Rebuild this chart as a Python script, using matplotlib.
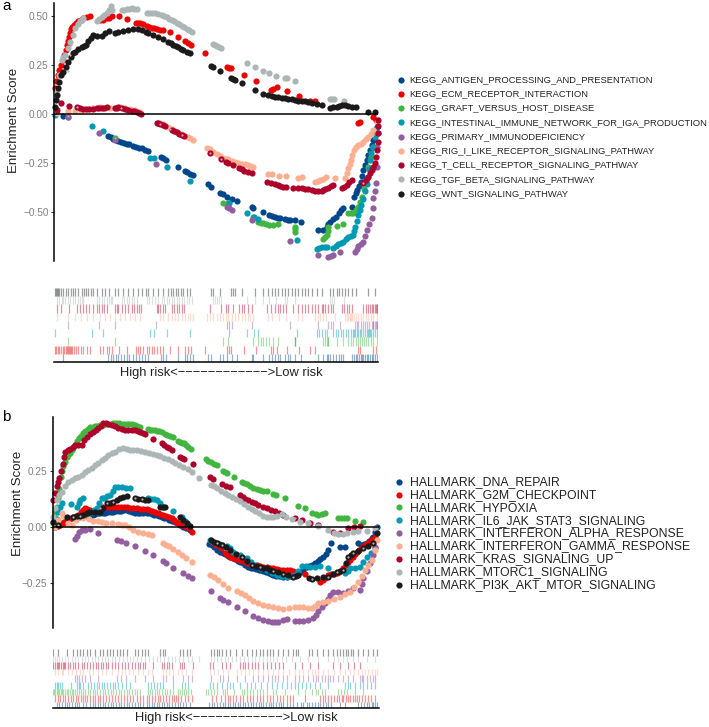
import numpy as np
import matplotlib
matplotlib.use('Agg')
import matplotlib.pyplot as plt

plt.rcParams['font.family'] = ['Liberation Sans', 'DejaVu Sans']

W, H = 709, 727

# lancet palette, same order in both panels
colors = ['#00468B', '#ED0000', '#42B540', '#0099B4', '#925E9F',
          '#FDAF91', '#AD002A', '#ADB6B6', '#1B1919']

names_a = ['KEGG_ANTIGEN_PROCESSING_AND_PRESENTATION', 'KEGG_ECM_RECEPTOR_INTERACTION',
           'KEGG_GRAFT_VERSUS_HOST_DISEASE', 'KEGG_INTESTINAL_IMMUNE_NETWORK_FOR_IGA_PRODUCTION',
           'KEGG_PRIMARY_IMMUNODEFICIENCY', 'KEGG_RIG_I_LIKE_RECEPTOR_SIGNALING_PATHWAY',
           'KEGG_T_CELL_RECEPTOR_SIGNALING_PATHWAY', 'KEGG_TGF_BETA_SIGNALING_PATHWAY',
           'KEGG_WNT_SIGNALING_PATHWAY']
names_b = ['HALLMARK_DNA_REPAIR', 'HALLMARK_G2M_CHECKPOINT', 'HALLMARK_HYPOXIA',
           'HALLMARK_IL6_JAK_STAT3_SIGNALING', 'HALLMARK_INTERFERON_ALPHA_RESPONSE',
           'HALLMARK_INTERFERON_GAMMA_RESPONSE', 'HALLMARK_KRAS_SIGNALING_UP',
           'HALLMARK_MTORC1_SIGNALING', 'HALLMARK_PI3K_AKT_MTOR_SIGNALING']

# (rank, running enrichment score)
a_antigen = [(27,-.010),(162,-.114),(170,-.119),(177,-.127),(185,-.131),(192,-.137),(200,-.142),(209,-.149),(217,-.151),(225,-.154),(235,-.161),(244,-.166),(254,-.173),
             (262,-.175),(272,-.183),(282,-.186),(319,-.217),(327,-.222),(334,-.234),(372,-.268),(392,-.290),(399,-.297),(408,-.303),(417,-.310),
             (462,-.358),(470,-.369),(497,-.400),(507,-.408),(517,-.420),(532,-.432),(549,-.444),(592,-.471),(597,-.478),
             (625,-.497),(645,-.514),(654,-.518),(662,-.522),(670,-.527),(677,-.531),(692,-.534),(700,-.539),(707,-.541),(722,-.541),(740,-.547),
             (792,-.590),(807,-.590),(817,-.575),(822,-.56),(827,-.547),(835,-.535),(845,-.522),(855,-.505),(860,-.49),(865,-.478),
             (892,-.471),(899,-.420),(905,-.40),(909,-.386),(914,-.365),(919,-.344),(923,-.315),(927,-.285),(932,-.26),(937,-.234),(942,-.21),(947,-.183),(952,-.16),(957,-.132),(962,-.10),(967,-.064)]
a_ecm = [(2,.13),(5,.17),(10,.20),(15,.225),(20,.25),(25,.275),(30,.30),(34,.325),(38,.35),(41,.37),(44,.39),(47,.41),(50,.43),(54,.44),(59,.45),(65,.46),(72,.475),(80,.48),(87,.487),(97,.495),(107,.50),
         (137,.477),(147,.48),(157,.487),(165,.49),(172,.50),(195,.499),(217,.483),(245,.464),(251,.462),(257,.461),(267,.455),(277,.447),(285,.443),(292,.439),(300,.435),(307,.431),(317,.428),
         (327,.425),(347,.418),(370,.392),(392,.369),(400,.36),(409,.352),(452,.308),(517,.241),(523,.236),(530,.232),(570,.196),(604,.169),
         (650,.12),(657,.127),(669,.139),(699,.117),(734,.092),(767,.066),(782,.066),(912,-.047),(917,-.039),(957,-.014),(965,-.03)]
a_graft = [(42,-.014),(182,-.124),(507,-.454),(522,-.454),(597,-.525),(612,-.547),(620,-.552),(627,-.555),(636,-.561),(645,-.565),(657,-.565),
           (672,-.560),(722,-.573),(722,-.585),(722,-.598),(805,-.637),(812,-.625),(817,-.615),(820,-.595),(822,-.573),(847,-.570),(865,-.561),(882,-.505),
           (890,-.505),(897,-.505),(905,-.488),(912,-.471),(917,-.445),(922,-.420),(928,-.38),(935,-.335),(942,-.268),(949,-.217),(957,-.166),(967,-.098)]
a_il = [(2,-.005),(114,-.061),(147,-.085),(287,-.225),(299,-.225),(337,-.268),(407,-.339),(525,-.454),(577,-.505),(599,-.522),
        (612,-.535),(727,-.641),(787,-.688),(795,-.683),(802,-.678),(811,-.677),(819,-.675),(837,-.680),(845,-.672),(852,-.663),(860,-.656),(867,-.649),(875,-.637),(882,-.624),(890,-.62),
        (897,-.615),(900,-.595),(902,-.573),(907,-.545),(912,-.515),(917,-.488),(921,-.46),(925,-.434),(932,-.390),(937,-.355),(942,-.320),(945,-.28),(947,-.234),(951,-.20),(955,-.166),(962,-.115),(969,-.064)]
a_primary = [(42,-.017),(134,-.098),(182,-.132),(304,-.256),(519,-.475),(525,-.48),(532,-.486),(592,-.540),(707,-.644),
             (790,-.717),(822,-.725),(829,-.72),(835,-.717),(857,-.700),(902,-.700),(907,-.685),(912,-.671),(920,-.66),(927,-.649),(932,-.62),(937,-.590),
             (945,-.56),(952,-.531),(955,-.480),(957,-.429),(962,-.390),(965,-.350),(967,-.268),(969,-.166),(971,-.098)]
a_rig = [(7,.003),(42,.017),(62,.017),(80,.02),(97,.024),(117,.03),(137,.037),(152,.032),(167,.029),(182,.03),(197,.034),(212,.028),(227,.024),(242,.018),(257,.012),
         (317,-.044),(327,-.051),(342,-.068),(352,-.075),(362,-.085),(372,-.095),(382,-.103),(392,-.110),(400,-.116),(407,-.122),(417,-.132),
         (457,-.171),(467,-.178),(477,-.195),(487,-.205),(497,-.212),(507,-.222),(515,-.227),(522,-.231),(532,-.237),(542,-.243),(552,-.249),(562,-.252),(572,-.254),(580,-.26),(587,-.266),(597,-.271),
         (642,-.305),(652,-.305),(675,-.314),(695,-.317),(732,-.325),(742,-.320),(782,-.344),(790,-.34),(797,-.336),(806,-.328),(815,-.319),
         (842,-.327),(872,-.327),(877,-.30),(882,-.276),(886,-.255),(889,-.234),(894,-.21),(899,-.183),(905,-.17),(912,-.158),(920,-.15),(927,-.141),(935,-.128),(942,-.115),(950,-.10),(957,-.081),(967,-.039)]
a_tcell = [(7,.020),(19,.054),(44,.042),(67,.034),(77,.028),(87,.025),(96,.025),(105,.025),(116,.027),(127,.029),(134,.029),(142,.029),(150,.032),(159,.034),(182,.029),(187,.032),(192,.034),(202,.03),
           (212,.024),(222,.02),(232,.017),(240,.013),(247,.010),(254,.005),(259,.000),
           (307,-.044),(312,-.047),(317,-.051),(325,-.055),(332,-.059),(352,-.081),(360,-.087),(367,-.093),(375,-.10),(382,-.107),(390,-.112),
           (467,-.197),(500,-.231),(515,-.245),(522,-.251),(535,-.260),(555,-.276),(563,-.282),(570,-.288),(580,-.295),(592,-.302),
           (639,-.344),(650,-.35),(662,-.358),(670,-.362),(677,-.368),(687,-.371),(695,-.373),(717,-.376),(730,-.377),(742,-.378),(752,-.38),(762,-.383),(772,-.386),(782,-.390),(792,-.39),(802,-.393),(807,-.388),(812,-.383),
           (822,-.375),(830,-.368),(837,-.361),(862,-.378),(870,-.37),(877,-.361),(885,-.348),(892,-.336),(927,-.349),(935,-.335),(942,-.320),(947,-.30),(952,-.286),(957,-.27),(962,-.251),(965,-.22),(969,-.183),(970,-.14),(971,-.098),(972,-.06),(972,-.031)]
a_tgf = [(7,.12),(14,.20),(22,.275),(27,.29),(32,.30),(40,.335),(47,.368),(55,.40),(62,.436),(70,.455),(77,.475),(82,.48),(87,.488),(127,.475),(135,.485),(142,.495),(150,.505),(157,.512),(165,.53),(170,.549),(172,.529),
         (202,.529),(210,.53),(217,.532),(225,.535),(232,.537),(240,.535),(247,.532),(277,.515),(285,.515),(292,.515),(302,.515),(312,.509),(322,.503),(330,.498),(337,.492),(345,.485),(352,.478),(360,.471),(367,.464),(375,.455),(382,.447),(390,.44),(397,.431),(405,.425),(412,.419),
         (475,.356),(481,.351),(487,.346),(493,.34),(499,.334),(577,.258),(602,.237),(625,.220),(645,.207),(665,.195),(692,.181),(699,.183),(722,.168),
         (827,.078),(834,.078),(840,.078),(869,.066)]
a_wnt = [(2,.037),(4,.071),(7,.097),(11,.131),(15,.164),(20,.198),(27,.215),(34,.241),(42,.266),(49,.292),(55,.308),(62,.317),
         (72,.329),(82,.342),(88,.347),(95,.351),(102,.373),(109,.388),(117,.402),(129,.398),(142,.398),(152,.414),(164,.424),(182,.414),
         (192,.419),(207,.424),(222,.427),(237,.431),(250,.43),(262,.427),(275,.415),(282,.410),(297,.402),(312,.390),(327,.380),(342,.368),(350,.36),(357,.351),
         (365,.345),(372,.339),(380,.332),(387,.325),(397,.316),(407,.308),(469,.246),(477,.241),(497,.219),(529,.185),(535,.18),(542,.173),(562,.156),(602,.122),(627,.102),(640,.097),
         (652,.092),(662,.088),(672,.085),(682,.083),(692,.080),(702,.078),(712,.076),(722,.07),(732,.066),(742,.067),(752,.068),(762,.063),(772,.058),(787,.052),(802,.044),(827,.032),(835,.033),(847,.037),(855,.042),(862,.047),(872,.044),
         (882,.041),(892,.038),(905,.034),(942,.008),(962,.008)]

b_dna = [(12,.004),(20,.01),(28,.018),(36,.026),(42,.031),(50,.036),(58,.04),(66,.044),(72,.046),(80,.046),(90,.047),(100,.048),(112,.049),(120,.052),(128,.056),(136,.06),(142,.061),
         (150,.062),(158,.064),(166,.066),(174,.067),(182,.068),(190,.07),(198,.072),(206,.073),(214,.074),(222,.075),(230,.07),(238,.066),(247,.064),(255,.064),(263,.063),(272,.062),(282,.061),
         (290,.06),(298,.056),(305,.054),(312,.053),(320,.049),(328,.045),(335,.041),(342,.038),(350,.033),(358,.028),(367,.024),(375,.016),(383,.008),(392,.001),(400,-.005),(412,-.013),
         (470,-.075),(477,-.08),(484,-.09),(492,-.1),(502,-.109),(510,-.115),(518,-.122),(525,-.128),(532,-.132),(540,-.138),(548,-.144),(555,-.15),(562,-.154),(570,-.162),(578,-.17),(586,-.176),
         (594,-.181),(602,-.184),(610,-.187),(618,-.19),(625,-.192),(632,-.194),(640,-.2),(648,-.206),(655,-.21),(662,-.213),(670,-.216),(678,-.218),(685,-.219),(692,-.22),(702,-.22),(712,-.218),
         (722,-.215),(732,-.213),(745,-.2),(752,-.19),(762,-.176),(770,-.172),(778,-.167),(787,-.161),(795,-.152),(803,-.142),(812,-.132),(820,-.118),(827,-.102),(834,-.073),(862,-.09),(877,-.087),
         (917,-.072),(925,-.078),(933,-.075),(942,-.072),(950,-.06),(958,-.048),(962,-.043),(968,-.02),(972,-.001)]
b_g2m = [(7,.001),(15,.005),(22,.009),(30,.016),(38,.024),(47,.031),(55,.038),(62,.044),(70,.05),(77,.053),(84,.066),(90,.077),(97,.083),(104,.08),(112,.074),(120,.07),(127,.068),(135,.075),
         (143,.084),(152,.09),(160,.088),(170,.087),(178,.087),(187,.087),(195,.087),(205,.087),(214,.087),(222,.087),(232,.086),(242,.085),(252,.083),(262,.082),(272,.08),(282,.078),(290,.075),
         (298,.071),(307,.068),(315,.063),(323,.058),(332,.053),(340,.049),(348,.043),(357,.038),(364,.031),(370,.024),(377,.016),(385,.011),(397,.004),(405,-.005),(417,-.021),
         (477,-.065),(490,-.078),(505,-.095),(518,-.115),(525,-.125),(532,-.132),(540,-.136),(550,-.141),(562,-.146),(572,-.152),(582,-.158),(592,-.164),(602,-.167),(612,-.17),(622,-.173),(632,-.176),
         (642,-.178),(652,-.18),(662,-.183),(672,-.187),(682,-.191),(692,-.192),(702,-.193),(712,-.193),(722,-.194),(757,-.209),(802,-.243),(810,-.236),(818,-.225),(827,-.213),(835,-.21),(843,-.208),
         (852,-.206),(860,-.198),(867,-.19),(872,-.183),(880,-.168),(887,-.155),(892,-.146),(900,-.132),(907,-.118),(912,-.109),(920,-.1),(928,-.09),(937,-.08),(945,-.07),(955,-.058),(967,-.043)]
b_hypoxia = [(0,.02),(4,.05),(8,.07),(12,.09),(16,.13),(20,.17),(24,.22),(27,.25),(32,.27),(37,.29),(42,.31),(47,.32),(52,.33),(57,.34),(62,.35),(68,.365),(74,.38),(80,.395),(86,.405),(92,.416),
             (98,.425),(105,.435),(112,.442),(120,.445),(127,.448),(134,.448),(142,.452),(150,.455),(158,.457),(166,.456),(174,.457),(182,.46),(190,.463),(198,.46),(206,.458),(214,.457),(222,.459),
             (230,.459),(238,.456),(246,.453),(254,.449),(262,.445),(285,.434),(292,.432),(299,.431),(306,.43),(313,.427),(320,.424),(328,.42),(336,.415),(344,.41),(352,.405),(360,.4),(375,.384),
             (382,.379),(388,.375),(394,.371),(400,.365),(407,.356),(414,.348),(460,.300),(467,.293),(474,.287),(483,.281),(492,.275),(512,.249),(518,.245),(524,.241),(544,.220),(567,.201),(575,.196),
             (582,.191),(592,.183),(602,.175),(612,.169),(622,.164),(632,.162),(642,.160),(662,.147),(670,.142),(697,.127),(737,.095),(757,.083),(777,.064),(790,.057),(797,.053),(807,.056),(817,.061),
             (857,.041),(865,.04),(875,.039),(882,.038),(907,.028),(930,.021)]
b_il6 = [(7,.001),(12,.035),(17,.068),(22,.09),(27,.105),(54,.101),(74,.090),(78,.105),(82,.120),(90,.127),(107,.061),(115,.066),(125,.075),(132,.083),(140,.105),(147,.127),(155,.13),(164,.137),(172,.142),
         (180,.16),(187,.179),(197,.177),(207,.176),(220,.174),(232,.172),(287,.127),(295,.125),(303,.123),(312,.120),(322,.105),(332,.090),(362,.071),(387,.046),(397,.025),(407,.009),
         (472,-.058),(482,-.065),(492,-.073),(507,-.079),(522,-.084),(532,-.095),(542,-.109),(562,-.125),(582,-.139),(595,-.155),(607,-.169),(625,-.18),(642,-.192),(657,-.203),(672,-.213),(687,-.217),(702,-.220),(715,-.216),(727,-.213),(737,-.195),(747,-.172),
         (760,-.175),(772,-.176),(787,-.176),(802,-.173),(827,-.183),(877,-.206),(885,-.195),(892,-.184),(907,-.18),(922,-.176),(932,-.155),(942,-.132),(955,-.115),(967,-.095)]
b_alpha = [(67,-.055),(72,-.04),(79,-.021),(88,-.015),(97,-.013),(112,-.010),(137,-.025),(192,-.058),(205,-.064),(220,-.069),(247,-.083),(277,-.105),(302,-.124),
           (332,-.151),(340,-.159),(362,-.184),(392,-.206),(405,-.217),(417,-.228),(474,-.284),(502,-.314),(510,-.322),(527,-.334),(554,-.356),(577,-.375),(602,-.394),
           (615,-.403),(632,-.411),(645,-.417),(657,-.422),(667,-.423),(677,-.423),(690,-.415),(702,-.408),(727,-.419),(740,-.418),(752,-.416),(765,-.412),(782,-.405),(790,-.39),(797,-.371),(807,-.355),(817,-.339),(825,-.32),(832,-.302),
           (842,-.287),(857,-.29),(872,-.294),(887,-.283),(902,-.271),(922,-.278),(927,-.255),(932,-.228),(942,-.195),(952,-.161),(960,-.125),(967,-.087)]
b_gamma = [(7,.001),(17,.03),(27,.061),(32,.05),(45,.02),(57,.009),(70,.03),(82,.046),(92,.04),(108,.034),(122,.028),(135,.026),(147,.024),(160,.02),(177,.016),(195,.012),(207,.01),(217,.009),(230,-.002),(242,-.013),(257,-.02),(272,-.025),(285,-.03),(297,-.036),
           (332,-.072),(340,-.078),(350,-.086),(362,-.098),(375,-.111),(387,-.124),(400,-.138),(417,-.154),(472,-.213),(485,-.224),(497,-.235),(512,-.254),(527,-.272),(552,-.282),(565,-.292),(577,-.302),(590,-.316),(602,-.328),
           (617,-.337),(632,-.346),(647,-.351),(662,-.356),(677,-.36),(692,-.365),(710,-.36),(727,-.356),(740,-.356),(752,-.356),(765,-.358),(777,-.361),(787,-.35),(797,-.339),(812,-.334),(827,-.328),(845,-.318),(862,-.309),(877,-.298),(892,-.287),
           (905,-.265),(917,-.243),(927,-.218),(937,-.192),(947,-.17),(957,-.148),(966,-.10),(974,-.058)]
b_kras = [(2,.12),(7,.15),(12,.18),(16,.20),(20,.216),(26,.25),(32,.281),(35,.31),(37,.333),(45,.34),(52,.345),(60,.355),(67,.364),(77,.364),(87,.364),(95,.385),(102,.401),(112,.412),(122,.423),(130,.43),(137,.438),(145,.45),(152,.463),
          (160,.46),(167,.457),(177,.452),(187,.448),(197,.44),(207,.433),(217,.431),(227,.430),(237,.43),(247,.430),(255,.426),(262,.422),(270,.416),(277,.411),(300,.391),(327,.371),(335,.364),(342,.356),(350,.349),(357,.342),
          (382,.312),(388,.307),(394,.302),(420,.278),(472,.223),(482,.213),(507,.191),(520,.184),(532,.179),(562,.142),(570,.133),(577,.124),(587,.118),(597,.112),(607,.105),(617,.098),(630,.09),
          (642,.083),(655,.077),(667,.071),(680,.062),(692,.053),(727,.038),(747,.031),(772,.019),(797,.009),(840,-.021),(862,-.028),(887,-.006),(905,0),(922,.004)]
b_mtorc = [(2,.046),(7,.085),(12,.120),(20,.14),(27,.157),(37,.18),(47,.201),(57,.21),(67,.216),(77,.224),(87,.231),(97,.242),(107,.253),(117,.264),(127,.275),(137,.286),(147,.297),(157,.308),(167,.320),(177,.327),(187,.334),(200,.345),(212,.352),
           (222,.347),(232,.342),(242,.342),(252,.342),(265,.338),(277,.334),(290,.329),(302,.324),(312,.32),(322,.315),(335,.308),(347,.300),(357,.292),(367,.283),(380,.276),(392,.268),(405,.256),(417,.244),(440,.219),(474,.188),(483,.18),
           (492,.172),(505,.162),(517,.151),(527,.142),(537,.132),(550,.123),(562,.114),(575,.102),(587,.089),(597,.08),(607,.071),(620,.06),(632,.050),(642,.046),(652,.043),(662,.046),(672,.049),(687,.056),(700,.045),(717,.034),
           (742,.024),(767,.016),(797,.004),(827,-.013),(845,-.025),(857,-.033),(870,-.03),(882,-.028),(900,-.023),(917,-.018),(942,-.016),(967,-.006)]
b_pi3k = [(2,.024),(17,.009),(42,.046),(62,.046),(72,.048),(82,.049),(92,.055),(102,.062),(112,.068),(127,.068),(142,.068),(152,.085),(162,.105),(172,.108),(182,.112),(192,.12),(202,.127),(212,.133),(222,.138),
          (247,.127),(257,.125),(267,.123),(277,.122),(287,.120),(322,.090),(330,.088),(337,.087),(382,.043),(392,.03),(402,.016),(412,.004),(474,-.058),(483,-.065),(492,-.073),(500,-.077),(507,-.080),
          (520,-.09),(532,-.102),(550,-.118),(567,-.135),(582,-.15),(597,-.169),(610,-.173),(622,-.176),(632,-.18),(642,-.184),(652,-.189),(662,-.194),(677,-.2),(692,-.209),(707,-.215),(722,-.220),(730,-.216),(737,-.213),(770,-.228),(777,-.231),
          (792,-.225),(810,-.222),(827,-.220),(840,-.209),(852,-.198),(862,-.195),(872,-.191),(880,-.16),(887,-.132),(895,-.124),(902,-.117),(917,-.105),(932,-.095),(947,-.083),(962,-.072),(972,-.028)]

series_a = [a_antigen, a_ecm, a_graft, a_il, a_primary, a_rig, a_tcell, a_tgf, a_wnt]
series_b = [b_dna, b_g2m, b_hypoxia, b_il6, b_alpha, b_gamma, b_kras, b_mtorc, b_pi3k]

yticks_a = [-0.50, -0.25, 0.00, 0.25, 0.50]
yticks_b = [-0.25, 0.00, 0.25]

# dots that show a pale centre in the original
rings_a = [(42,-.012),(42,.22),(47,.30),(50,.35),(52,.39),(55,.42),(67,.034),(182,-.124),(467,-.197),(500,-.231),(927,-.349),(317,-.05),(347,-.075),(382,-.107),(200,.03)]
rings_b = [(17,.009),(62,.046),(82,.049),(142,.085),(162,.105),(182,.112),(247,.127),(267,.123),(492,-.073),(507,-.08),(567,-.135),(597,-.169),(622,-.176),
           (662,-.194),(692,-.209),(722,-.22),(777,-.231),(827,-.22),(852,-.198),(872,-.191),(887,-.132),(902,-.117),(932,-.095),(962,-.072),(692,.053),(727,.038),(772,.019)]


def box(left, top, right, bottom):
    # pixel box to figure fractions
    return [left / W, 1 - bottom / H, (right - left) / W, (bottom - top) / H]


fig = plt.figure(figsize=(W / 100, H / 100), dpi=100)


def panel(series, names, rings, yticks, xlim, ylim, main_box, rug_box, ylab_x, ylab_y,
          letter, letter_y, rug_text, legend_xy, leg_size, leg_space):
    ax = fig.add_axes(box(*main_box))
    for s, c, n in zip(series, colors, names):
        pts = np.array(s)
        ax.scatter(pts[:, 0], pts[:, 1], s=20, color=c, linewidths=0, label=n, clip_on=False)
    ring = np.array(rings)
    ax.scatter(ring[:, 0], ring[:, 1], s=2.5, color='#b8aeae', linewidths=0, zorder=4, clip_on=False)
    ax.axhline(0, color='black', lw=1.1, zorder=5)
    ax.set_xlim(*xlim)
    ax.set_ylim(*ylim)
    ax.set_xticks([])
    ax.set_yticks(yticks)
    ax.set_yticklabels(['%.2f' % v if v >= 0 else '\u2212%.2f' % -v for v in yticks],
                       color='#808080', fontsize=7.3)
    ax.tick_params(axis='y', length=2.5, width=0.8, pad=1.5, color='#333333')
    for k in ['top', 'right', 'bottom']:
        ax.spines[k].set_visible(False)
    ax.spines['left'].set_linewidth(1.1)
    ax.patch.set_alpha(0)
    fig.text(ylab_x / W, 1 - ylab_y / H, 'Enrichment Score', rotation=90, ha='center', va='center',
             fontsize=9.5, color='#222222')
    fig.text(2 / W, 1 - letter_y / H, letter, ha='left', va='baseline', fontsize=11)

    rug = fig.add_axes(box(*rug_box))
    for i, (s, c) in enumerate(zip(series, colors)):
        pts = np.array(s)
        rug.vlines(pts[:, 0], i, i + 1, color=c, lw=0.9, alpha=0.42)
    rug.set_xlim(*xlim)
    rug.set_ylim(0, 9)
    rug.set_xticks([])
    rug.set_yticks([])
    for k in ['top', 'right', 'left']:
        rug.spines[k].set_visible(False)
    rug.spines['bottom'].set_linewidth(1.1)
    fig.text(rug_text[0] / W, 1 - rug_text[1] / H, 'High risk<' + '\u2212' * 12 + '>Low risk',
             ha='center', va='center', fontsize=9.3, color='#222222')

    ax.legend(loc='upper left', bbox_to_anchor=(legend_xy[0] / W, 1 - legend_xy[1] / H),
              bbox_transform=fig.transFigure, frameon=False, fontsize=leg_size,
              labelspacing=leg_space, handletextpad=0.4, handlelength=1.0, borderpad=0,
              borderaxespad=0, labelcolor='#222222')


panel(series_a, names_a, rings_a, yticks_a, (0, 972), (-0.747, 0.564), (54.3, 3, 378.3, 261), (54.3, 288, 378.3, 362),
      14, 120, 'a', 9.5, (221, 373), (396, 75), 6.75, 0.56)
panel(series_b, names_b, rings_b, yticks_b, (0, 979), (-0.447, 0.487), (52.7, 417.3, 379, 627.7), (52.7, 649, 379, 708.3),
      18, 503, 'b', 421, (236, 718), (393, 476), 8.85, 0.07)

fig.savefig('out.png', dpi=100)
